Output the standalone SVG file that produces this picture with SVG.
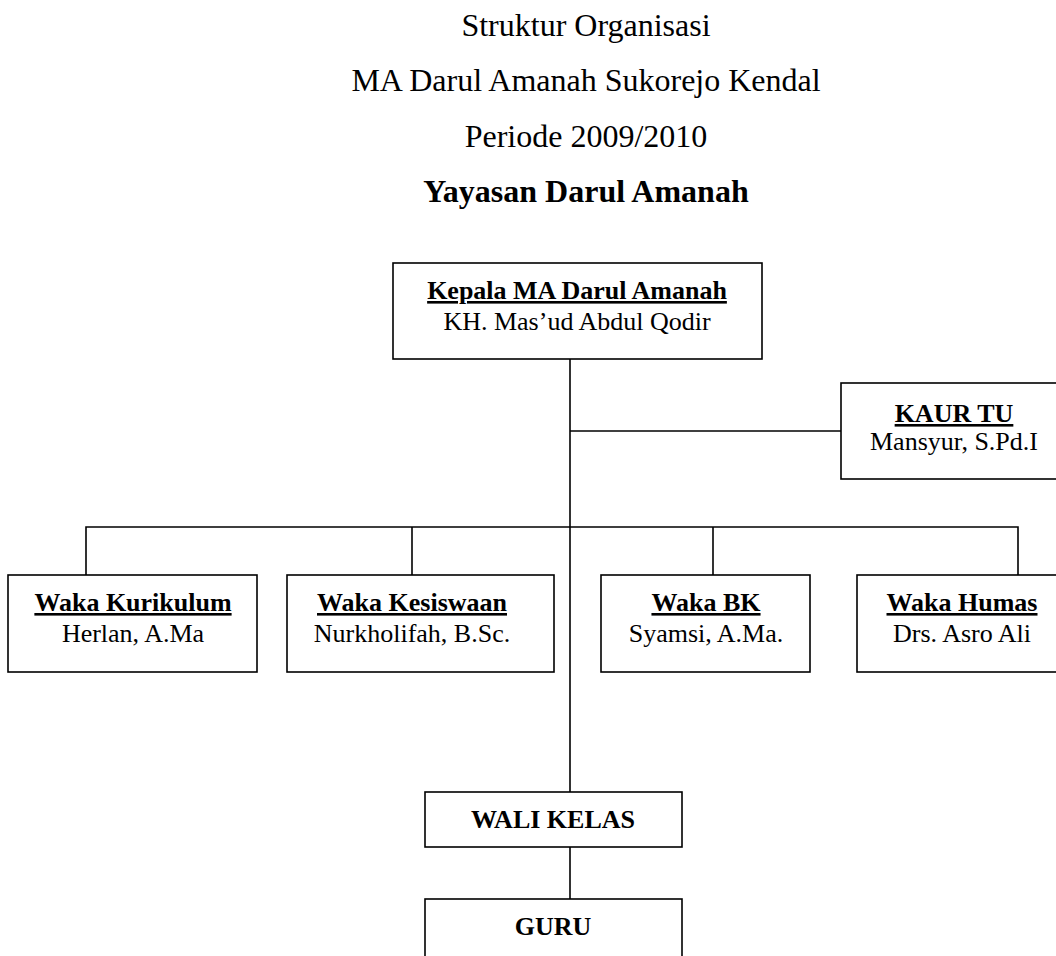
<svg xmlns="http://www.w3.org/2000/svg" width="1056" height="956" viewBox="0 0 1056 956">
<style>
text{font-family:"Liberation Serif","Times New Roman",serif;fill:#000;text-anchor:middle}
.t{font-size:32px}
.tb{font-size:32px;font-weight:bold}
.h{font-size:26px;font-weight:bold;text-decoration:underline}
.hb{font-size:26px;font-weight:bold}
.n{font-size:26px}
.box{fill:#fff;stroke:#000;stroke-width:1.6}
.ln{fill:none;stroke:#000;stroke-width:1.6}
</style>
<rect width="1056" height="956" fill="#fff"/>
<g id="title">
<text class="t" x="586" y="36">Struktur Organisasi</text>
<text class="t" x="586" y="91">MA Darul Amanah Sukorejo Kendal</text>
<text class="t" x="586" y="147">Periode 2009/2010</text>
<text class="tb" x="586" y="202">Yayasan Darul Amanah</text>
</g>
<g id="connectors">
<line class="ln" x1="570" y1="359" x2="570" y2="792"/>
<line class="ln" x1="570" y1="431" x2="841" y2="431"/>
<polyline class="ln" points="86,575 86,527 1018,527 1018,575"/>
<line class="ln" x1="412" y1="527" x2="412" y2="575"/>
<line class="ln" x1="713" y1="527" x2="713" y2="575"/>
<line class="ln" x1="570" y1="847" x2="570" y2="899"/>
</g>
<g id="kepala">
<rect class="box" x="393" y="263" width="369" height="96"/>
<text class="h" x="577" y="299">Kepala MA Darul Amanah</text>
<text class="n" x="577" y="330">KH. Mas’ud Abdul Qodir</text>
</g>
<g id="kaur-tu">
<rect class="box" x="841" y="383" width="230" height="96"/>
<text class="h" x="954" y="422">KAUR TU</text>
<text class="n" x="954" y="450">Mansyur, S.Pd.I</text>
</g>
<g id="waka-kurikulum">
<rect class="box" x="8" y="575" width="249" height="97"/>
<text class="h" x="133" y="611">Waka Kurikulum</text>
<text class="n" x="133" y="642">Herlan, A.Ma</text>
</g>
<g id="waka-kesiswaan">
<rect class="box" x="287" y="575" width="267" height="97"/>
<text class="h" x="412" y="611">Waka Kesiswaan</text>
<text class="n" x="412" y="642">Nurkholifah, B.Sc.</text>
</g>
<g id="waka-bk">
<rect class="box" x="601" y="575" width="209" height="97"/>
<text class="h" x="706" y="611">Waka BK</text>
<text class="n" x="706" y="642">Syamsi, A.Ma.</text>
</g>
<g id="waka-humas">
<rect class="box" x="857" y="575" width="214" height="97"/>
<text class="h" x="962" y="611">Waka Humas</text>
<text class="n" x="962" y="642">Drs. Asro Ali</text>
</g>
<g id="wali-kelas">
<rect class="box" x="425" y="792" width="257" height="55"/>
<text class="hb" x="553" y="828">WALI KELAS</text>
</g>
<g id="guru">
<rect class="box" x="425" y="899" width="257" height="70"/>
<text class="hb" x="553" y="935">GURU</text>
</g>
</svg>
